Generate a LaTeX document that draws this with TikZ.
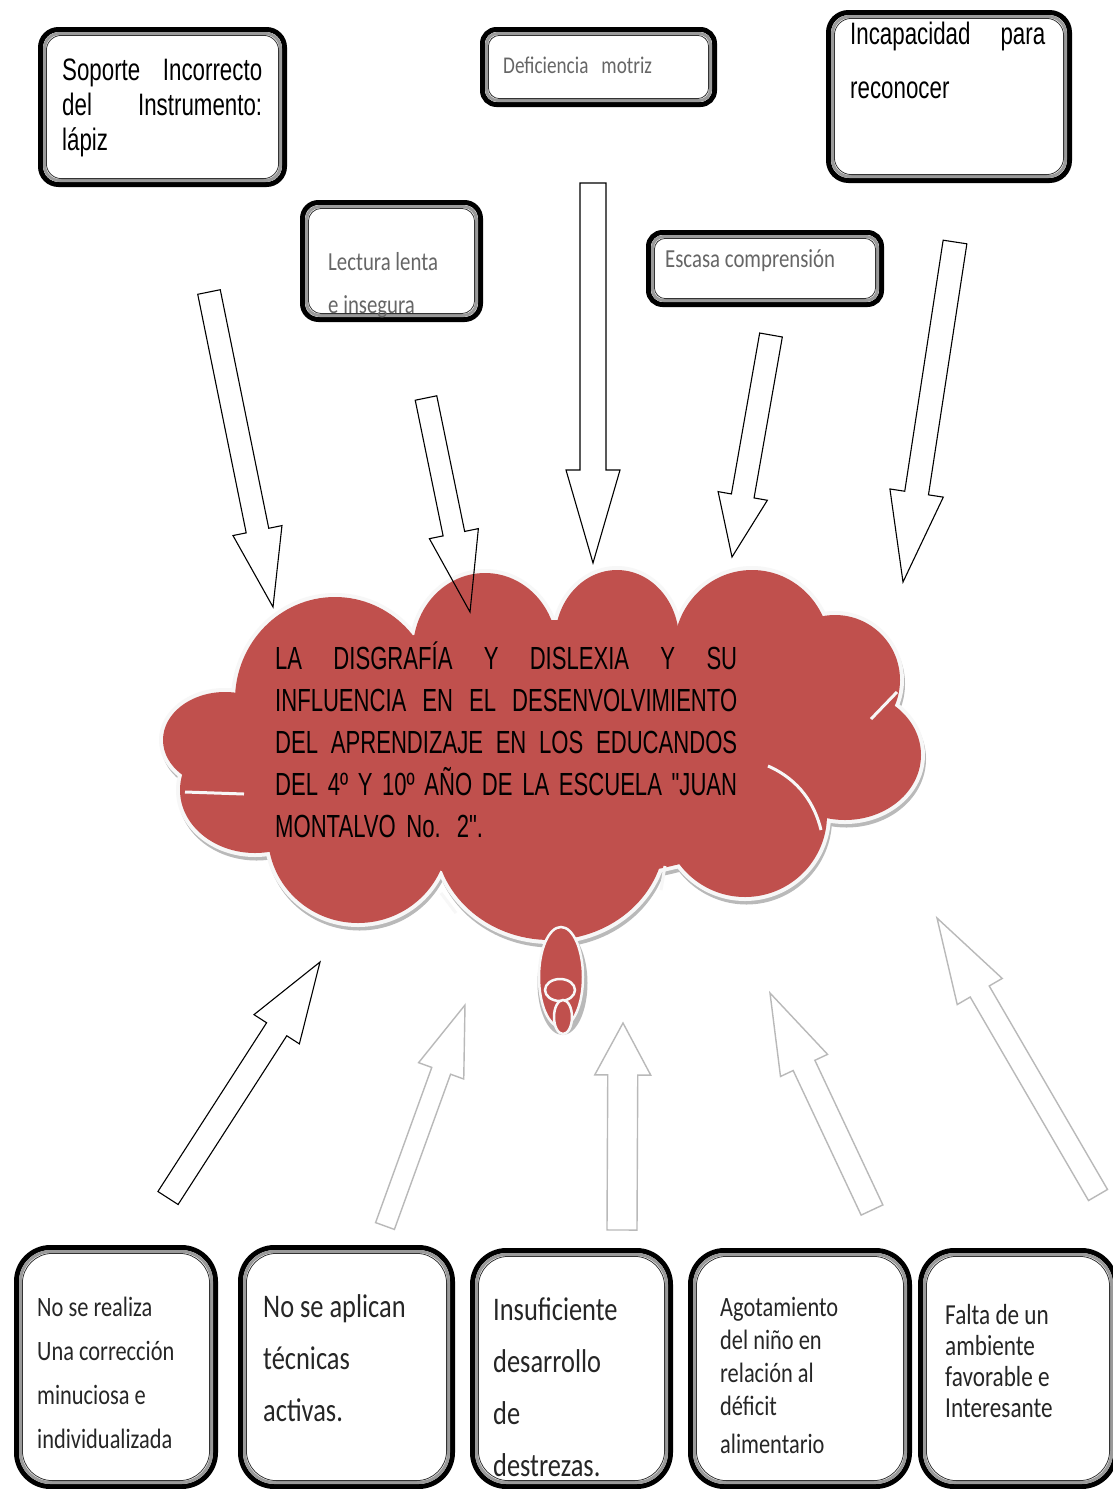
\documentclass[tikz,border=0pt]{standalone}
\usepackage{fontspec}
\usetikzlibrary{calc}
\newfontfamily\arialn[FakeStretch=0.72]{Liberation Sans}
\newfontfamily\arialc[FakeStretch=0.69]{Liberation Sans}
\newfontfamily\calibn[FakeStretch=0.8]{Carlito}
\definecolor{cred}{HTML}{C0504D}
\definecolor{cgrey}{HTML}{9A9A9A}
\newcommand\jl[2]{\makebox[#1][s]{\spaceskip=.25em plus 1fil\xspaceskip=.25em plus 1fil\relax #2}}
% block arrow: style, tail coord, tip coord, shaft half width, head half width, head length
\newcommand\blockarrow[6]{%
  \coordinate (#2-h) at ($(#3)!#6!(#2)$);
  \draw[#1] ($(#2)!#4!90:(#3)$) -- ($(#2-h)!#4!90:(#3)$) -- ($(#2-h)!#5!90:(#3)$) -- (#3)
     -- ($(#2-h)!#5!-90:(#3)$) -- ($(#2-h)!#4!-90:(#3)$) -- ($(#2)!#4!-90:(#3)$) -- cycle;}
\newcommand\innerframe[2]{%
  \draw[cgrey, line width=3pt, rounded corners=#2] ([shift={(4pt,-4pt)}]#1.north west) rectangle ([shift={(-4pt,4pt)}]#1.south east);
  \draw[black!80, line width=0.8pt, rounded corners=#2] ([shift={(5.9pt,-5.9pt)}]#1.north west) rectangle ([shift={(-5.9pt,5.9pt)}]#1.south east);}
\begin{document}
\begin{tikzpicture}[x=1pt,y=-1pt,
  frame/.style={draw=black, line width=5pt, rounded corners=#1, fill=white, outer sep=0pt, inner sep=0pt},
  frame/.default=16pt,
  txt/.style={anchor=north west, inner sep=0pt, align=left},
  darrow/.style={draw=black, line width=1.1pt, line join=miter},
  garrow/.style={draw=gray!55, line width=1.4pt, line join=miter},
  ring/.style={draw=white!94!gray, line width=2.5pt},
  notch/.style={draw=white!94!gray, line width=3pt},
]
\fill[white] (0,0) rectangle (1113,1489);
\clip (0,0) rectangle (1113,1489);
\useasboundingbox (0,0) rectangle (1113,1489);

% ---------- top boxes ----------
\node[frame=18pt, minimum width=244pt, minimum height=155pt] (soporte) at (162.5,107) {};
\innerframe{soporte}{15pt}
\node[frame=14pt, minimum width=232pt, minimum height=75pt] (deficiencia) at (598.5,67) {};
\innerframe{deficiencia}{11pt}
\node[frame=20pt, minimum width=241pt, minimum height=168pt] (incapacidad) at (949,96.5) {};
\innerframe{incapacidad}{17pt}
\node[frame=16pt, minimum width=178pt, minimum height=117pt] (lectura) at (391.5,261) {};
\innerframe{lectura}{13pt}
\node[frame=14pt, minimum width=233pt, minimum height=72pt] (escasa) at (765,268.5) {};
\innerframe{escasa}{11pt}

\node[txt, text width=200pt, font=\arialn\fontsize{31pt}{35pt}\selectfont] (soporte-t) at (62,58.5)
  {\jl{200pt}{Soporte Incorrecto}\\\jl{200pt}{del Instrumento:}\\lápiz};
\node[txt, font=\calibn\fontsize{24pt}{28pt}\selectfont, text=gray!80!black] (deficiencia-t) at (503,57) {Deficiencia\ \ \ motriz};
\node[txt, text width=195pt, font=\arialn\fontsize{31pt}{54pt}\selectfont] (incapacidad-t) at (850,21.5)
  {\jl{195pt}{Incapacidad para}\\reconocer};
\node[txt, font=\calibn\fontsize{26pt}{43pt}\selectfont, text=gray!80!black] (lectura-t) at (328,252) {Lectura lenta\\e insegura};
\node[txt, font=\calibn\fontsize{26pt}{30pt}\selectfont, text=gray!80!black] (escasa-t) at (665,249) {Escasa comprensión};

% ---------- cloud ----------
\def\puffs{335/700/100/103, 485/650/72/77, 617/640/62/70, 752/650/78/80, 835/680/65/65,
    845/755/76/65, 745/815/82/82, 550/835/115/105, 358/835/90/88, 255/790/75/63, 225/740/62/48, 545/750/280/130}
\foreach \cx/\cy/\rx/\ry in \puffs
  \fill[gray!55] ([shift={(1.5pt,-4pt)}]\cx,\cy) ellipse [x radius=\rx pt+3.5pt, y radius=\ry pt+3.5pt];
\foreach \cx/\cy/\rx/\ry in \puffs
  \fill[white!94!gray] (\cx,\cy) ellipse [x radius=\rx pt+4pt, y radius=\ry pt+4pt];
\foreach \cx/\cy/\rx/\ry in \puffs
  \fill[cred] (\cx,\cy) ellipse [x radius=\rx pt, y radius=\ry pt];
% white notch lines inside the cloud
\draw[notch] (871,719) -- (897,692);
\draw[notch] (768,766) .. controls (800,780) and (815,805) .. (821,830);
\draw[notch] (185,792) -- (244,794);
\draw[notch] (441,893) -- (456,913);
\draw[notch] (665,866) -- (661,890);
% tail of the thought bubble
\fill[gray!55] ([shift={(1.5pt,-3pt)}]561,980) ellipse [x radius=25pt, y radius=52pt];
\filldraw[fill=cred, ring] (561,977) ellipse [x radius=22pt, y radius=50pt];
\draw[ring] (560,990) ellipse [x radius=15pt, y radius=11pt];
\filldraw[fill=cred, ring] (563,1017) ellipse [x radius=9pt, y radius=17pt];

\node[txt, text width=462pt, font=\arialc\fontsize{32pt}{42pt}\selectfont] (titulo) at (275,642)
  {\jl{462pt}{LA DISGRAFÍA Y DISLEXIA Y SU}\\
   \jl{462pt}{INFLUENCIA EN EL DESENVOLVIMIENTO}\\
   \jl{462pt}{DEL APRENDIZAJE EN LOS EDUCANDOS}\\
   \jl{462pt}{DEL 4º Y 10º AÑO DE LA ESCUELA "JUAN}\\
   MONTALVO No. 2".};

% ---------- arrows towards the cloud ----------
\coordinate (a1t) at (209,292);  \coordinate (a1p) at (273,607);
\coordinate (a2t) at (426,398);  \coordinate (a2p) at (470,612);
\coordinate (a3t) at (593,183);  \coordinate (a3p) at (593,563);
\coordinate (a4t) at (771,335);  \coordinate (a4p) at (732,557);
\coordinate (a5t) at (955,242);  \coordinate (a5p) at (903,582);
\blockarrow{darrow}{a1t}{a1p}{11.5pt}{25pt}{78pt}
\blockarrow{darrow}{a2t}{a2p}{11pt}{25pt}{80pt}
\blockarrow{darrow}{a3t}{a3p}{13pt}{27pt}{93pt}
\blockarrow{darrow}{a4t}{a4p}{11.5pt}{25pt}{62pt}
\blockarrow{darrow}{a5t}{a5p}{12pt}{27pt}{90pt}

\coordinate (b1t) at (168,1198);  \coordinate (b1p) at (320,962);
\coordinate (b2t) at (385,1226);  \coordinate (b2p) at (465,1005);
\coordinate (b3t) at (622,1230);  \coordinate (b3p) at (623,1023);
\coordinate (b4t) at (872,1210);  \coordinate (b4p) at (770,993);
\coordinate (b5t) at (1098,1195); \coordinate (b5p) at (937,918);
\blockarrow{darrow}{b1t}{b1p}{12pt}{27pt}{80pt}
\blockarrow{garrow}{b2t}{b2p}{10pt}{24pt}{70pt}
\blockarrow{garrow}{b3t}{b3p}{15pt}{28pt}{52pt}
\blockarrow{garrow}{b4t}{b4p}{12pt}{26pt}{80pt}
\blockarrow{garrow}{b5t}{b5p}{11pt}{26pt}{85pt}

% ---------- bottom boxes ----------
\node[frame=34pt, minimum width=199pt, minimum height=239pt] (c1) at (116,1367) {};
\innerframe{c1}{30pt}
\node[frame=34pt, minimum width=212pt, minimum height=239pt] (c2) at (346.5,1367) {};
\innerframe{c2}{30pt}
\node[frame=34pt, minimum width=198pt, minimum height=236pt] (c3) at (571.5,1368.5) {};
\innerframe{c3}{30pt}
\node[frame=34pt, minimum width=219pt, minimum height=236pt] (c4) at (800,1368.5) {};
\innerframe{c4}{30pt}
\node[frame=34pt, minimum width=195pt, minimum height=236pt] (c5) at (1018,1368.5) {};
\innerframe{c5}{30pt}

\node[txt, font=\calibn\fontsize{28pt}{44pt}\selectfont, text=black!85] (c1-t) at (37,1297)
  {No se realiza\\Una corrección\\minuciosa e\\individualizada};
\node[txt, font=\calibn\fontsize{33pt}{52pt}\selectfont, text=black!85] (c2-t) at (263,1294.5)
  {No se aplican\\técnicas\\activas.};
\node[txt, font=\calibn\fontsize{33pt}{52pt}\selectfont, text=black!85] (c3-t) at (493,1297.5)
  {Insuficiente\\desarrollo\\de\\destrezas.};
\node[txt, font=\calibn\fontsize{28pt}{33pt}\selectfont, text=black!85] (c4-t) at (720,1297.4)
  {Agotamiento\\del niño en\\relación al\\déficit\\[5pt]alimentario};
\node[txt, font=\calibn\fontsize{29pt}{31pt}\selectfont, text=black!85] (c5-t) at (945,1304)
  {Falta de un\\ambiente\\favorable e\\Interesante};
\end{tikzpicture}
\end{document}
